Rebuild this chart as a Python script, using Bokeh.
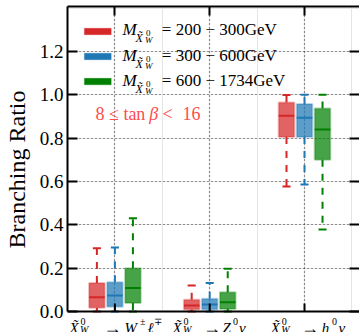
import math
import numpy as np
from bokeh.plotting import figure
from bokeh.models import (LinearAxis, FixedTicker, Label, BoxAnnotation, Range1d, Grid, Span)
from bokeh.embed import file_html
from bokeh.resources import INLINE

# ---------------- data ----------------
cat_x = [1, 2, 3]
group_names = ["200 − 300GeV", "300 − 600GeV", "600 − 1734GeV"]
group_offsets = [-0.19, 0.0, 0.19]
group_colors = ["#d62728", "#1f77b4", "#008000"]

# order of categories: W±ℓ∓, Z0ν, h0ν
lo_200 = [0.0, 0.0, 0.577]
q1_200 = [0.017, 0.009, 0.805]
med_200 = [0.066, 0.028, 0.903]
q3_200 = [0.132, 0.054, 0.964]
hi_200 = [0.292, 0.120, 0.999]

lo_300 = [0.0, 0.0, 0.586]
q1_300 = [0.022, 0.009, 0.805]
med_300 = [0.074, 0.032, 0.894]
q3_300 = [0.135, 0.059, 0.958]
hi_300 = [0.295, 0.131, 1.0]

lo_600 = [0.0, 0.0, 0.378]
q1_600 = [0.039, 0.012, 0.700]
med_600 = [0.108, 0.043, 0.840]
q3_600 = [0.200, 0.089, 0.937]
hi_600 = [0.430, 0.197, 1.0]

stats = [
    (lo_200, q1_200, med_200, q3_200, hi_200),
    (lo_300, q1_300, med_300, q3_300, hi_300),
    (lo_600, q1_600, med_600, q3_600, hi_600),
]

y_ticks = [0.0, 0.2, 0.4, 0.6, 0.8, 1.0, 1.2]
y_tick_labels = ["0.0", "0.2", "0.4", "0.6", "0.8", "1.0", "1.2"]
y_axis_title = "Branching Ratio"

SERIF = "Liberation Serif"
BOX_W = 0.165
CAP_W = 0.085
X_MIN, X_MAX = 0.5, 3.58
Y_TOP = 1.4075
Y_BOT = -0.0969

p = figure(width=359, height=332, x_range=Range1d(X_MIN, X_MAX), y_range=Range1d(Y_BOT, Y_TOP),
           output_backend="svg", toolbar_location=None,
           min_border_left=65, min_border_right=0, min_border_top=6, min_border_bottom=0,
           x_axis_location=None, y_axis_location=None)
p.outline_line_color = None
p.background_fill_color = "white"
p.border_fill_color = "white"

# dotted grids
p.add_layout(Grid(dimension=0, ticker=FixedTicker(ticks=cat_x), grid_line_color="#333",
                  grid_line_dash="1 3", grid_line_width=1.2))
p.add_layout(Grid(dimension=1, ticker=FixedTicker(ticks=y_ticks[1:]), grid_line_color="#333",
                  grid_line_dash="1 3", grid_line_width=1.2))
# blank strip below the x axis (tick-label area)
p.add_layout(BoxAnnotation(left=X_MIN, right=X_MAX, bottom=Y_BOT, top=0, fill_color="white",
                           fill_alpha=1.0, line_color=None, level="underlay"))


def style_axis(ax, tick_len, show_labels=False, line=True):
    ax.major_tick_in = tick_len
    ax.major_tick_out = 0
    ax.minor_tick_line_color = None
    ax.major_tick_line_width = 2
    ax.major_tick_line_color = "black"
    ax.axis_line_width = 2
    ax.axis_line_color = "black" if line else None
    if not show_labels:
        ax.major_label_text_font_size = "0px"
        ax.major_label_standoff = 0
    return ax


left = style_axis(LinearAxis(ticker=FixedTicker(ticks=y_ticks)), 10, show_labels=True)
left.bounds = (0, Y_TOP)
left.major_label_overrides = {t: l for t, l in zip(y_ticks, y_tick_labels)}
left.major_label_text_font = SERIF
left.major_label_text_font_size = "19px"
left.major_label_text_color = "black"
left.major_label_standoff = 4
left.axis_label = y_axis_title
left.axis_label_text_font = SERIF
left.axis_label_text_font_style = "normal"
left.axis_label_text_font_size = "24px"
left.axis_label_text_color = "black"
left.axis_label_standoff = 7
p.add_layout(left, "left")

right = style_axis(LinearAxis(ticker=FixedTicker(ticks=y_ticks)), 10, line=False)
right.major_label_overrides = {t: "" for t in y_ticks}
p.add_layout(right, "right")

top = style_axis(LinearAxis(ticker=FixedTicker(ticks=cat_x)), 9)
top.major_label_overrides = {t: "" for t in cat_x}
p.add_layout(top, "above")

# boxes
for (lo, q1, med, q3, hi), off, col in zip(stats, group_offsets, group_colors):
    xs = np.array(cat_x, dtype=float) + off
    p.vbar(x=xs, width=BOX_W, bottom=q1, top=q3, fill_color=col, fill_alpha=0.72,
           line_color=col, line_alpha=0.3, line_width=2)
    p.segment(x0=xs, y0=q3, x1=xs, y1=hi, line_color=col, line_width=2, line_dash="7 7")
    p.segment(x0=xs, y0=q1, x1=xs, y1=lo, line_color=col, line_width=2, line_dash="7 7")
    p.segment(x0=xs - CAP_W / 2, y0=hi, x1=xs + CAP_W / 2, y1=hi, line_color=col, line_width=2)
    p.segment(x0=xs - CAP_W / 2, y0=lo, x1=xs + CAP_W / 2, y1=lo, line_color=col, line_width=2)
    p.segment(x0=xs - BOX_W / 2, y0=med, x1=xs + BOX_W / 2, y1=med, line_color=col, line_width=2)

# bottom spine at y = 0 and inward category ticks
p.ray(x=cat_x, y=0, length=8, length_units="screen", angle=math.pi / 2,
      line_color="black", line_width=2)
p.add_layout(Span(location=0, dimension="width", line_color="black", line_width=2))


def txt(x, y, dx, dy, text, size, italic=False, color="black", angle=0.0,
        align="left", baseline="alphabetic"):
    p.add_layout(Label(x=x, y=y, x_offset=dx, y_offset=dy, text=text, text_font=SERIF,
                       text_font_size=f"{size}px",
                       text_font_style="italic" if italic else "normal",
                       text_color=color, text_align=align, text_baseline=baseline,
                       angle=angle))


X0 = X_MIN  # left edge of the frame in data units; offsets below are pixels from it

# legend
row_base = [1.300, 1.181, 1.066]
row_handle = [1.292, 1.177, 1.061]
for name, col, yb, yh in zip(group_names, group_colors, row_base, row_handle):
    p.add_layout(BoxAnnotation(left=0.678, right=0.961, bottom=yh - 0.015, top=yh + 0.015,
                               fill_color=col, fill_alpha=1.0, line_color=col, line_alpha=0.3,
                               line_width=1))
    txt(X0, yb, 55, 0, "M", 17, italic=True)
    txt(X0, yb, 68, -8, "X\u0303", 12, italic=True)
    txt(X0, yb, 78.5, -3.5, "0", 9)
    txt(X0, yb, 77.5, -10, "W", 9, italic=True)
    txt(X0, yb, 94.3, 0, "= " + name, 17)

# tan beta annotation
red_txt = "#ff4c4c"
tb_y = 0.912
txt(X0, tb_y, 28, 0, "8 ≤ tan", 18, color=red_txt)
txt(X0, tb_y, 81.7, 0, "β", 18, italic=True, color=red_txt)
txt(X0, tb_y, 95, 0, "<", 18, color=red_txt)
txt(X0, tb_y, 115, 0, "16", 18, color=red_txt)

# x tick labels (composed math text), placed below y = 0
base = -16
sup = -9.5
sub = -17.5
xlabels = [
    [("X\u0303", 2, base, 15, True), ("0", 13, sup, 10, False), ("W", 12.5, sub, 10, True),
     ("→", 36, base, 18, False), ("W", 57, base, 15, True), ("±", 72.5, sup, 10, False),
     ("ℓ", 80, base, 15, True), ("∓", 86.5, sup, 10, False)],
    [("X\u0303", 105, base, 15, True), ("0", 116, sup, 10, False), ("W", 115.5, sub, 10, True),
     ("→", 135.5, base, 18, False), ("Z", 155, base, 15, True), ("0", 165.5, sup, 10, False),
     ("ν", 171.5, base, 15, True)],
    [("X\u0303", 203.3, base, 15, True), ("0", 214.3, sup, 10, False), ("W", 213.8, sub, 10, True),
     ("→", 233.5, base, 18, False), ("h", 254.3, base, 15, True), ("0", 264.5, sup, 10, False),
     ("ν", 271, base, 15, True)],
]
for pieces in xlabels:
    for t, dx, dy, s, it in pieces:
        txt(X0, 0.0, dx, dy, t, s, italic=it)

open("out.html", "w").write(file_html(p, INLINE))
